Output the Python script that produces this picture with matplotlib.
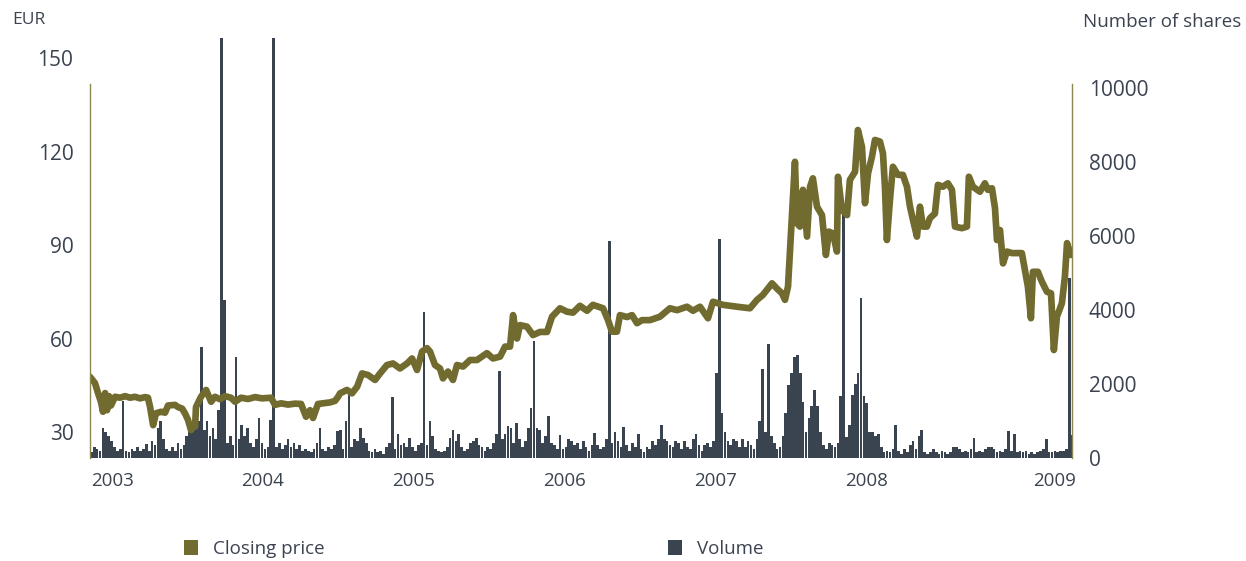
import matplotlib
matplotlib.use("Agg")
import matplotlib.pyplot as plt
from matplotlib.patches import Patch
import numpy as np

# ---------------- data ----------------
# closing price (EUR), dates in decimal years
price_dates = [
    2002.854, 2002.887, 2002.907, 2002.927, 2002.940, 2002.954, 2002.967, 2002.980, 2002.993,
    2003.020, 2003.053, 2003.086, 2003.119, 2003.152, 2003.185, 2003.219, 2003.238, 2003.252,
    2003.272, 2003.291, 2003.325, 2003.351, 2003.371, 2003.417, 2003.437, 2003.464, 2003.483,
    2003.503, 2003.523, 2003.536, 2003.550, 2003.556, 2003.589, 2003.623, 2003.656, 2003.682,
    2003.715, 2003.748, 2003.788, 2003.815, 2003.854, 2003.901, 2003.947, 2003.993,
    2004.053, 2004.079, 2004.119, 2004.166, 2004.212, 2004.252, 2004.285, 2004.311, 2004.331,
    2004.364, 2004.411, 2004.444, 2004.477, 2004.497, 2004.510, 2004.556, 2004.589, 2004.623,
    2004.656, 2004.695, 2004.742, 2004.775, 2004.821, 2004.861, 2004.907, 2004.954, 2004.987,
    2005.020, 2005.053, 2005.086, 2005.106, 2005.139, 2005.172, 2005.192, 2005.225, 2005.258,
    2005.285, 2005.325, 2005.371, 2005.417, 2005.483, 2005.523, 2005.570, 2005.603, 2005.636,
    2005.656, 2005.682, 2005.702, 2005.748, 2005.788, 2005.834, 2005.881, 2005.914, 2005.967,
    2006.013, 2006.053, 2006.099, 2006.146, 2006.185, 2006.252, 2006.285, 2006.311, 2006.344,
    2006.364, 2006.411, 2006.444, 2006.477, 2006.510, 2006.563, 2006.629, 2006.695, 2006.742,
    2006.808, 2006.848, 2006.894, 2006.947, 2006.980,
    2007.046, 2007.139, 2007.225, 2007.272, 2007.311, 2007.371, 2007.404, 2007.437, 2007.457,
    2007.477, 2007.503, 2007.523, 2007.536, 2007.556, 2007.576, 2007.603, 2007.623, 2007.642,
    2007.669, 2007.702, 2007.728, 2007.748, 2007.775, 2007.801, 2007.808, 2007.834, 2007.868,
    2007.887, 2007.921, 2007.940, 2007.967, 2007.987,
    2008.007, 2008.033, 2008.053, 2008.086, 2008.106, 2008.119, 2008.132, 2008.152, 2008.172,
    2008.205, 2008.238, 2008.265, 2008.285, 2008.305, 2008.331, 2008.351, 2008.371, 2008.397,
    2008.417, 2008.450, 2008.470, 2008.503, 2008.536, 2008.563, 2008.583, 2008.629, 2008.662,
    2008.675, 2008.702, 2008.748, 2008.781, 2008.801, 2008.828, 2008.848, 2008.861, 2008.881,
    2008.901, 2008.927, 2008.960, 2008.993,
    2009.026, 2009.046, 2009.066, 2009.086, 2009.099, 2009.132, 2009.159, 2009.192, 2009.219,
    2009.238, 2009.258, 2009.291, 2009.311, 2009.325, 2009.351,
]
price_values = [
    47.7, 45.7, 42.5, 39.6, 36.5, 42.5, 37.0, 41.5, 38.5,
    41.3, 41.0, 41.5, 41.0, 41.3, 40.8, 41.2, 41.0, 38.0,
    32.2, 36.0, 36.5, 36.2, 38.5, 38.7, 38.0, 37.5, 36.0,
    33.9, 30.6, 32.0, 31.7, 38.0, 41.3, 43.5, 39.7, 41.3,
    40.5, 41.5, 41.0, 39.7, 41.0, 40.6, 41.2, 40.8,
    41.0, 38.7, 39.2, 38.8, 39.1, 39.0, 34.9, 37.0, 34.5,
    39.0, 39.3, 39.5, 40.0, 41.3, 42.4, 43.5, 42.4, 44.5,
    48.8, 48.3, 46.7, 48.8, 51.5, 52.0, 50.4, 52.0, 53.6,
    49.9, 55.8, 56.9, 55.8, 51.5, 50.4, 47.2, 49.4, 46.7,
    51.5, 51.0, 53.1, 53.1, 55.3, 53.6, 54.2, 57.4, 57.4,
    67.5, 60.0, 64.3, 63.8, 61.1, 62.1, 62.1, 67.0, 69.7,
    68.6, 68.3, 70.5, 68.9, 70.8, 69.7, 65.9, 62.2, 62.2,
    67.5, 66.9, 67.5, 64.9, 65.9, 65.9, 67.0, 69.7, 69.1,
    70.2, 68.9, 70.2, 66.5, 71.8,
    70.8, 70.2, 69.7, 72.4, 74.0, 77.7, 76.0, 74.5, 72.4,
    76.6, 99.1, 116.7, 97.0, 95.9, 107.7, 92.7, 108.7, 111.4,
    102.3, 99.6, 86.8, 94.3, 93.7, 87.9, 111.9, 101.2, 99.6,
    110.9, 113.5, 126.9, 121.5, 103.4,
    113.0, 118.3, 123.7, 123.2, 119.4, 108.7, 91.6, 104.4, 115.1,
    112.5, 112.5, 108.7, 102.3, 98.0, 92.7, 102.3, 95.9, 95.9,
    98.6, 100.1, 109.3, 108.7, 109.8, 107.7, 95.9, 95.4, 95.9,
    111.9, 108.7, 107.1, 109.8, 107.7, 108.2, 101.8, 91.6, 94.8,
    84.1, 87.9, 87.4, 87.4,
    87.4, 82.0, 76.6, 66.5, 81.4, 81.4, 78.2, 75.0, 74.5,
    56.3, 67.0, 71.3, 79.8, 90.6, 86.8,
]

# weekly trading volume (number of shares), first week starting late 2002
volume_start = 2002.854
volume_values = [
    150, 300, 250, 200, 806, 700, 600, 450, 300, 200,
    250, 1532, 200, 150, 250, 200, 300, 180, 250, 380,
    200, 450, 350, 800, 995, 500, 250, 200, 300, 200,
    400, 250, 350, 600, 1075, 700, 900, 1000, 3000, 750,
    1000, 600, 800, 500, 1300, 11500, 4260, 400, 590, 350,
    2733, 500, 900, 600, 800, 400, 300, 500, 1075, 400,
    250, 300, 1030, 11500, 300, 400, 250, 350, 500, 300,
    400, 250, 350, 200, 250, 200, 150, 250, 400, 806,
    250, 200, 300, 250, 350, 725, 750, 250, 1000, 1700,
    300, 500, 450, 806, 550, 400, 200, 150, 250, 150,
    200, 100, 300, 400, 1640, 250, 650, 350, 400, 300,
    550, 300, 200, 350, 400, 3943, 350, 995, 600, 250,
    200, 150, 200, 300, 550, 760, 450, 650, 300, 200,
    250, 400, 450, 550, 350, 300, 200, 300, 250, 400,
    650, 2357, 500, 650, 860, 800, 400, 940, 500, 300,
    450, 800, 1344, 3164, 800, 760, 400, 600, 1129, 400,
    350, 250, 627, 250, 300, 500, 450, 350, 400, 250,
    450, 300, 200, 350, 672, 350, 250, 300, 500, 5852,
    400, 700, 450, 300, 833, 350, 200, 400, 300, 650,
    250, 150, 300, 250, 450, 350, 500, 887, 500, 450,
    350, 300, 450, 400, 250, 450, 300, 250, 500, 660,
    350, 200, 350, 400, 300, 450, 2285, 5932, 1210, 700,
    450, 350, 500, 450, 300, 500, 300, 450, 350, 250,
    500, 1000, 2400, 700, 3073, 600, 400, 250, 300, 600,
    1210, 1970, 2300, 2740, 2777, 2300, 1500, 700, 1075, 1400,
    1836, 1400, 700, 350, 250, 400, 350, 300, 400, 1670,
    6675, 560, 900, 1700, 2000, 2285, 4328, 1680, 1478, 700,
    700, 600, 650, 300, 150, 200, 150, 250, 895, 200,
    100, 250, 150, 350, 450, 250, 600, 760, 150, 100,
    150, 250, 150, 100, 200, 150, 100, 150, 300, 300,
    250, 150, 200, 150, 250, 550, 150, 200, 150, 250,
    300, 300, 250, 150, 200, 150, 250, 725, 200, 650,
    150, 200, 150, 200, 100, 150, 100, 150, 200, 250,
    500, 150, 150, 200, 150, 200, 200, 250, 4865, 618,
]

year_ticks = [2003, 2004, 2005, 2006, 2007, 2008, 2009.245]
year_labels = ["2003", "2004", "2005", "2006", "2007", "2008", "2009"]
price_ticks = [30, 60, 90, 120, 150]
volume_ticks = [0, 2000, 4000, 6000, 8000, 10000]

# ---------------- style ----------------
OLIVE = "#716b2f"
DARK = "#3a4450"
TEXT = "#3b4350"
SPINE = "#8c8650"
FONT = ["Open Sans", "DejaVu Sans"]
plt.rcParams["font.family"] = FONT

fig = plt.figure(figsize=(12.46, 5.61), dpi=100)
ax_p = fig.add_axes([90 / 1246, 103 / 561, 982 / 1246, 420 / 561])
ax_v = ax_p.twinx()

week = 1 / 52.18
vol_x = volume_start + week * np.arange(len(volume_values))
ax_v.bar(vol_x, volume_values, width=week * 0.92, color=DARK, align="edge",
         linewidth=0)
ax_p.plot(price_dates, price_values, color=OLIVE, lw=4.8,
          solid_joinstyle="round", solid_capstyle="round")

ax_p.set_zorder(ax_v.get_zorder() + 1)
ax_p.patch.set_visible(False)

ax_p.set_xlim(2002.854, 2009.358)
ax_p.set_ylim(21.66, 156.42)
ax_v.set_ylim(0, 11351)

ax_p.set_xticks(year_ticks)
ax_p.set_xticklabels(year_labels)
ax_p.set_yticks(price_ticks)
ax_v.set_yticks(volume_ticks)

for a in (ax_p, ax_v):
    for s in a.spines.values():
        s.set_visible(False)
ax_p.spines["left"].set_visible(True)
ax_p.spines["left"].set_color(SPINE)
ax_p.spines["left"].set_linewidth(1.0)
ax_p.spines["left"].set_bounds(21.66, 141.7)
ax_v.spines["right"].set_visible(True)
ax_v.spines["right"].set_color(SPINE)
ax_v.spines["right"].set_linewidth(1.0)
ax_v.spines["right"].set_bounds(0, 10107)

ax_p.tick_params(axis="y", length=0, pad=12, labelsize=15, labelcolor=TEXT)
ax_p.tick_params(axis="x", length=0, pad=10, labelsize=13.5, labelcolor=TEXT)
ax_v.tick_params(axis="y", length=0, pad=12, labelsize=15, labelcolor=TEXT)

fig.text(12 / 1246, 1 - 20 / 561, "EUR", ha="left", va="center",
         fontsize=12.5, color=TEXT)
fig.text(1241 / 1246, 1 - 22 / 561, "Number of shares", ha="right", va="center",
         fontsize=13.5, color=TEXT)

leg1 = fig.legend(handles=[Patch(facecolor=OLIVE, edgecolor="none", label="Closing price")],
                  loc="center left", bbox_to_anchor=(167 / 1246, 1 - 549 / 561),
                  frameon=False, fontsize=13.5, handlelength=0.75, handleheight=0.85,
                  handletextpad=0.8, labelcolor=TEXT)
leg2 = fig.legend(handles=[Patch(facecolor=DARK, edgecolor="none", label="Volume")],
                  loc="center left", bbox_to_anchor=(651 / 1246, 1 - 549 / 561),
                  frameon=False, fontsize=13.5, handlelength=0.75, handleheight=0.85,
                  handletextpad=0.8, labelcolor=TEXT)

fig.savefig("out.png", dpi=100)
